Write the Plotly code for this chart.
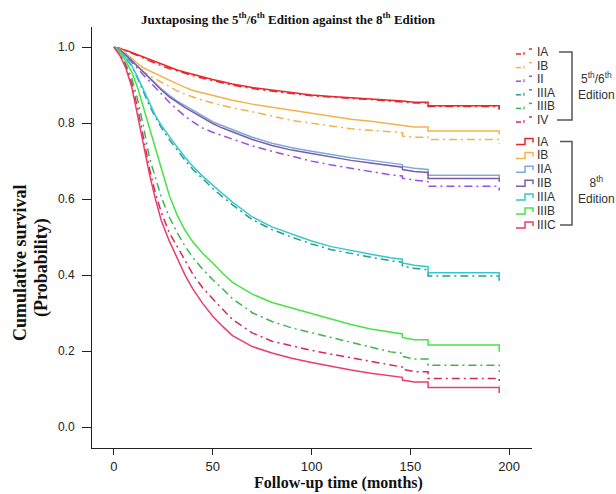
import plotly.graph_objects as go

# ---------------- data ----------------
# follow-up months; repeated months mark the sharp survival drops
months = [0, 3, 6, 9, 12, 15, 18, 21, 24, 28, 32, 36, 40, 45, 50, 55, 60,
          70, 80, 90, 100, 110, 120, 130, 140, 146, 146, 152, 159, 159, 195, 195]

# 5th/6th edition (dash-dot lines)
ed56_IA = [1.0, 0.997, 0.991, 0.985, 0.978, 0.971, 0.964, 0.957, 0.951, 0.944, 0.937, 0.931, 0.925,
           0.918, 0.912, 0.906, 0.900, 0.891, 0.884, 0.878, 0.872, 0.868, 0.865, 0.862, 0.858,
           0.856, 0.856, 0.853, 0.853, 0.844, 0.844, 0.835]
ed56_IB = [1.0, 0.995, 0.982, 0.966, 0.950, 0.935, 0.925, 0.916, 0.907, 0.896, 0.885, 0.876, 0.868,
           0.860, 0.853, 0.846, 0.840, 0.830, 0.818, 0.807, 0.800, 0.792, 0.785, 0.781, 0.777,
           0.775, 0.766, 0.763, 0.763, 0.757, 0.757, 0.745]
ed56_II = [1.0, 0.993, 0.978, 0.960, 0.943, 0.926, 0.910, 0.893, 0.875, 0.855, 0.836, 0.818, 0.803,
           0.787, 0.776, 0.767, 0.758, 0.740, 0.726, 0.713, 0.700, 0.690, 0.681, 0.673, 0.664,
           0.661, 0.655, 0.650, 0.646, 0.634, 0.634, 0.623]
ed56_IIIA = [1.0, 0.990, 0.971, 0.950, 0.918, 0.882, 0.846, 0.815, 0.788, 0.757, 0.729, 0.702, 0.678,
             0.652, 0.628, 0.606, 0.585, 0.546, 0.520, 0.500, 0.482, 0.467, 0.456, 0.447, 0.438,
             0.434, 0.424, 0.418, 0.414, 0.398, 0.398, 0.385]
ed56_IIIB = [1.0, 0.983, 0.955, 0.918, 0.862, 0.790, 0.708, 0.655, 0.605, 0.553, 0.512, 0.476, 0.446,
             0.415, 0.388, 0.364, 0.338, 0.301, 0.278, 0.261, 0.248, 0.236, 0.223, 0.210, 0.198,
             0.194, 0.186, 0.179, 0.179, 0.163, 0.163, 0.145]
ed56_IV = [1.0, 0.980, 0.950, 0.905, 0.840, 0.755, 0.680, 0.615, 0.565, 0.512, 0.475, 0.437, 0.402,
           0.366, 0.337, 0.310, 0.283, 0.248, 0.226, 0.213, 0.202, 0.192, 0.182, 0.172, 0.162,
           0.158, 0.152, 0.146, 0.146, 0.128, 0.128, 0.110]

# 8th edition (solid lines)
ed8_IA = [1.0, 0.997, 0.992, 0.986, 0.980, 0.974, 0.967, 0.960, 0.954, 0.947, 0.940, 0.934, 0.928,
          0.921, 0.915, 0.909, 0.903, 0.894, 0.887, 0.881, 0.874, 0.870, 0.867, 0.864, 0.860,
          0.858, 0.858, 0.855, 0.855, 0.846, 0.846, 0.837]
ed8_IB = [1.0, 0.995, 0.984, 0.970, 0.957, 0.945, 0.937, 0.930, 0.923, 0.913, 0.903, 0.894, 0.886,
          0.879, 0.872, 0.866, 0.860, 0.850, 0.842, 0.833, 0.826, 0.817, 0.810, 0.805, 0.798,
          0.795, 0.794, 0.790, 0.790, 0.779, 0.779, 0.770]
ed8_IIA = [1.0, 0.993, 0.980, 0.965, 0.951, 0.937, 0.921, 0.905, 0.890, 0.873, 0.858, 0.846, 0.834,
           0.818, 0.804, 0.793, 0.783, 0.763, 0.747, 0.735, 0.726, 0.717, 0.709, 0.702, 0.694,
           0.691, 0.686, 0.681, 0.678, 0.663, 0.663, 0.655]
ed8_IIB = [1.0, 0.993, 0.979, 0.963, 0.949, 0.934, 0.918, 0.902, 0.887, 0.869, 0.854, 0.841, 0.829,
           0.813, 0.799, 0.787, 0.777, 0.757, 0.741, 0.729, 0.720, 0.711, 0.702, 0.695, 0.687,
           0.684, 0.678, 0.673, 0.670, 0.654, 0.654, 0.646]
ed8_IIIA = [1.0, 0.990, 0.972, 0.952, 0.921, 0.886, 0.851, 0.820, 0.794, 0.764, 0.737, 0.710, 0.686,
            0.660, 0.636, 0.614, 0.592, 0.553, 0.527, 0.508, 0.490, 0.475, 0.464, 0.455, 0.446,
            0.442, 0.432, 0.426, 0.422, 0.406, 0.406, 0.390]
ed8_IIIB = [1.0, 0.985, 0.963, 0.935, 0.893, 0.840, 0.785, 0.730, 0.680, 0.610, 0.558, 0.518, 0.487,
            0.457, 0.432, 0.405, 0.381, 0.350, 0.328, 0.313, 0.298, 0.284, 0.270, 0.258, 0.249,
            0.245, 0.236, 0.230, 0.230, 0.216, 0.216, 0.198]
ed8_IIIC = [1.0, 0.978, 0.945, 0.895, 0.820, 0.745, 0.665, 0.600, 0.543, 0.490, 0.445, 0.400, 0.363,
            0.325, 0.292, 0.265, 0.241, 0.212, 0.195, 0.181, 0.170, 0.160, 0.150, 0.142, 0.135,
            0.131, 0.124, 0.119, 0.119, 0.104, 0.104, 0.090]

x_ticks = [0, 50, 100, 150, 200]
y_ticks = [0.0, 0.2, 0.4, 0.6, 0.8, 1.0]

labels56 = ["IA", "IB", "II", "IIIA", "IIIB", "IV"]
labels8 = ["IA", "IB", "IIA", "IIB", "IIIA", "IIIB", "IIIC"]

# ---------------- styling ----------------
series56 = [ed56_IA, ed56_IB, ed56_II, ed56_IIIA, ed56_IIIB, ed56_IV]
colors56 = ["#e8262b", "#f3b24a", "#9b4fe0", "#2a9d8a", "#3cb64c", "#d42a5a"]
series8 = [ed8_IA, ed8_IB, ed8_IIA, ed8_IIB, ed8_IIIA, ed8_IIIB, ed8_IIIC]
colors8 = ["#e8262b", "#f3b24a", "#7ea9dc", "#7a5ea8", "#33c8d0", "#45e445", "#ea3d6e"]
DASH = "8px,4px,2px,4px"

W, H = 616, 494
ML, MR, MT, MB = 92, 84, 27, 46
PW, PH = W - ML - MR, H - MT - MB


def px(x):
    return (x - ML) / PW


def py(y):
    return (H - MB - y) / PH


fig = go.Figure()
for name, vals, col in zip(labels56, series56, colors56):
    fig.add_trace(go.Scatter(x=months, y=vals, mode="lines", name="5th/6th " + name,
                             line=dict(color=col, width=1.5, dash=DASH), showlegend=False))
for name, vals, col in zip(labels8, series8, colors8):
    fig.add_trace(go.Scatter(x=months, y=vals, mode="lines", name="8th " + name,
                             line=dict(color=col, width=1.5), showlegend=False))

shapes = []
annotations = []
lab_font = dict(family="Liberation Sans, Arial", size=12, color="#333")

# 5th/6th legend block
y0_56, dy56 = 52, 13.6
for i, (lab, col) in enumerate(zip(labels56, colors56)):
    y = y0_56 + i * dy56
    shapes.append(dict(type="line", xref="paper", yref="paper", x0=px(516), x1=px(521), y0=py(y + 2), y1=py(y + 2),
                       line=dict(color=col, width=1.5)))
    shapes.append(dict(type="line", xref="paper", yref="paper", x0=px(524), x1=px(524), y0=py(y + 3), y1=py(y),
                       line=dict(color=col, width=1.2)))
    shapes.append(dict(type="line", xref="paper", yref="paper", x0=px(529), x1=px(532), y0=py(y - 3), y1=py(y - 3),
                       line=dict(color=col, width=1.5)))
    annotations.append(dict(x=px(535), y=py(y), xref="paper", yref="paper", text=lab, showarrow=False,
                            xanchor="left", yanchor="middle", font=lab_font))

# 8th legend block
y0_8, dy8 = 141.5, 13.9
for i, (lab, col) in enumerate(zip(labels8, colors8)):
    y = y0_8 + i * dy8
    path = "M {} {} L {} {} L {} {} L {} {} L {} {}".format(
        px(516), py(y + 3), px(525), py(y + 3), px(525), py(y - 3), px(533), py(y - 3), px(533), py(y + 1))
    shapes.append(dict(type="path", xref="paper", yref="paper", path=path, line=dict(color=col, width=1.5)))
    annotations.append(dict(x=px(535), y=py(y), xref="paper", yref="paper", text=lab, showarrow=False,
                            xanchor="left", yanchor="middle", font=lab_font))

# brackets
br = "#555"
for (ytop, ybot, xs_top, xs_bot) in [(52, 120, 559, 557), (141.5, 225, 560, 560)]:
    shapes.append(dict(type="path", xref="paper", yref="paper",
                       path="M {} {} L {} {} L {} {} L {} {}".format(px(xs_top), py(ytop), px(572), py(ytop),
                                                                    px(572), py(ybot), px(xs_bot), py(ybot)),
                       line=dict(color=br, width=1.5)))

annotations.append(dict(x=px(596), y=py(86), xref="paper", yref="paper",
                        text="5<sup>th</sup>/6<sup>th</sup><br>Edition", showarrow=False,
                        xanchor="center", yanchor="middle", align="center", font=lab_font))
annotations.append(dict(x=px(596), y=py(190), xref="paper", yref="paper",
                        text="8<sup>th</sup><br>Edition", showarrow=False,
                        xanchor="center", yanchor="middle", align="center", font=lab_font))

# axis titles
serif = "Liberation Serif, Times New Roman, serif"
annotations.append(dict(x=px(338), y=py(483), xref="paper", yref="paper",
                        text="<b>Follow-up time (months)</b>", showarrow=False,
                        xanchor="center", yanchor="middle", font=dict(family=serif, size=16, color="#111")))
annotations.append(dict(x=px(20), y=py(263), xref="paper", yref="paper",
                        text="<b>Cumulative survival</b>", showarrow=False, textangle=-90,
                        xanchor="center", yanchor="middle", font=dict(family=serif, size=18, color="#111")))
annotations.append(dict(x=px(41), y=py(268), xref="paper", yref="paper",
                        text="<b>(Probability)</b>", showarrow=False, textangle=-90,
                        xanchor="center", yanchor="middle", font=dict(family=serif, size=18, color="#111")))

fig.update_layout(
    width=W, height=H,
    margin=dict(l=ML, r=MR, t=MT, b=MB),
    paper_bgcolor="white", plot_bgcolor="white",
    title=dict(text="<b>Juxtaposing the 5<sup>th</sup>/6<sup>th</sup> Edition against the 8<sup>th</sup> Edition</b>",
               x=288 / W, xref="container", xanchor="center", y=1 - 19 / H, yref="container", yanchor="middle",
               font=dict(family=serif, size=13, color="#111")),
    shapes=shapes, annotations=annotations,
    showlegend=False,
)
fig.update_xaxes(range=[-11.1, 211.6], tickvals=x_ticks, ticks="outside", ticklen=6, tickcolor="#222",
                 showline=True, linecolor="#222", linewidth=1, showgrid=False, zeroline=False,
                 tickfont=dict(family="Liberation Sans, Arial", size=13, color="#222"))
fig.update_yaxes(range=[-0.055, 1.053], tickvals=y_ticks, tickformat=".1f", ticks="outside", ticklen=9,
                 ticklabelstandoff=5,
                 tickcolor="#222", showline=True, linecolor="#222", linewidth=1, showgrid=False, zeroline=False,
                 tickfont=dict(family="Liberation Sans, Arial", size=12, color="#222"))

fig.write_html("out.html", config={"displayModeBar": False},
               post_script="document.body.style.margin='0';document.body.style.padding='0';")
